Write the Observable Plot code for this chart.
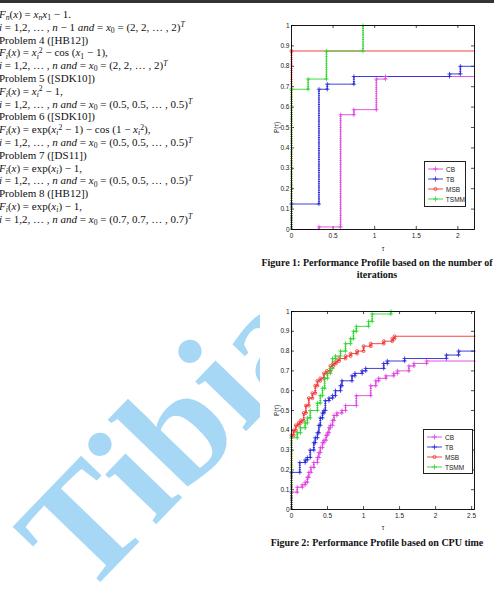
<!DOCTYPE html>
<html><head><meta charset="utf-8">
<script src="https://cdn.jsdelivr.net/npm/d3@7"></script>
<script src="https://cdn.jsdelivr.net/npm/@observablehq/plot@0.6"></script>
<style>
html,body{margin:0;padding:0;background:#fff;}
#page{position:relative;width:494px;height:595px;overflow:hidden;background:#fff;}
.topbar{position:absolute;left:0;top:0;width:494px;height:3px;background:#333;}
#wm{position:absolute;left:0;top:0;}
#text{position:absolute;left:-1px;top:8px;font-family:"Liberation Serif",serif;font-size:11px;line-height:12.8px;color:#111;white-space:nowrap;}
sub,sup{font-size:70%;line-height:0;position:relative;vertical-align:baseline}
sub{top:0.3em} sup{top:-0.45em}
.chart{position:absolute;}
.cap{position:absolute;left:260px;width:234px;text-align:center;font-family:"Liberation Serif",serif;font-weight:bold;font-size:10px;line-height:12px;color:#111}
.legend{position:absolute;background:#fff;border:1px solid #222;box-sizing:border-box;font-family:"Liberation Sans",Arial,sans-serif;font-size:6.5px;color:#222;padding-top:2px}
.legend .row{display:flex;align-items:center;height:10px}
.legend svg{display:block;margin-left:2px;margin-right:2px}
</style></head><body><div id="page">
<div class="topbar"></div>
<svg id="wm" width="494" height="595"><text transform="translate(84,599) rotate(-46)" font-family="Liberation Serif, serif" font-weight="bold" font-size="155" fill="#a6d8f6">Tibia</text></svg>
<div id="text">
<div><i>F</i><sub><i>n</i></sub>(<i>x</i>) = <i>x</i><sub><i>n</i></sub><i>x</i><sub>1</sub> − 1.</div>
<div><i>i</i> = 1,2, … , <i>n</i> − 1 <i>and</i> = <i>x</i><sub>0</sub> = (2, 2, … , 2)<sup><i>T</i></sup></div>
<div>Problem 4 ([HB12])</div>
<div><i>F</i><sub><i>i</i></sub>(<i>x</i>) = <i>x</i><sub><i>i</i></sub><sup>2</sup> − cos (<i>x</i><sub>1</sub> − 1),</div>
<div><i>i</i> = 1,2, … , <i>n and</i> = <i>x</i><sub>0</sub> = (2, 2, … , 2)<sup><i>T</i></sup></div>
<div>Problem 5 ([SDK10])</div>
<div><i>F</i><sub><i>i</i></sub>(<i>x</i>) = <i>x</i><sub><i>i</i></sub><sup>2</sup> − 1,</div>
<div><i>i</i> = 1,2, … , <i>n and</i> = <i>x</i><sub>0</sub> = (0.5, 0.5, … , 0.5)<sup><i>T</i></sup></div>
<div>Problem 6 ([SDK10])</div>
<div><i>F</i><sub><i>i</i></sub>(<i>x</i>) = exp(<i>x</i><sub><i>i</i></sub><sup>2</sup> − 1) − cos (1 − <i>x</i><sub><i>i</i></sub><sup>2</sup>),</div>
<div><i>i</i> = 1,2, … , <i>n and</i> = <i>x</i><sub>0</sub> = (0.5, 0.5, … , 0.5)<sup><i>T</i></sup></div>
<div>Problem 7 ([DS11])</div>
<div><i>F</i><sub><i>i</i></sub>(<i>x</i>) = exp(<i>x</i><sub><i>i</i></sub>) − 1,</div>
<div><i>i</i> = 1,2, … , <i>n and</i> = <i>x</i><sub>0</sub> = (0.5, 0.5, … , 0.5)<sup><i>T</i></sup></div>
<div>Problem 8 ([HB12])</div>
<div><i>F</i><sub><i>i</i></sub>(<i>x</i>) = exp(<i>x</i><sub><i>i</i></sub>) − 1,</div>
<div><i>i</i> = 1,2, … , <i>n and</i> = <i>x</i><sub>0</sub> = (0.7, 0.7, … , 0.7)<sup><i>T</i></sup></div>
</div>
<div id="c1" class="chart" style="left:260px;top:12px"></div>
<div id="c2" class="chart" style="left:260px;top:299px"></div>
<div class="cap" style="top:257px">Figure 1: Performance Profile based on the number of<br>iterations</div>
<div class="cap" style="top:537px">Figure 2: Performance Profile based on CPU time</div>
<div id="lg1" class="legend" style="left:424px;top:161px;width:42px;height:46px"></div>
<div id="lg2" class="legend" style="left:423px;top:429px;width:50px;height:45px"></div>
</div>
<script>
// ---- data ----
const series = ["CB", "TB", "MSB", "TSMM"];
const colors = ["#e044e0", "#2b2bd6", "#f03232", "#2fd62f"];
const symbols = ["plus", "plus", "circle", "plus"];
const yTicks = [0, 0.1, 0.2, 0.3, 0.4, 0.5, 0.6, 0.7, 0.8, 0.9, 1];
const xTicks1 = [0, 0.5, 1, 1.5, 2];
const xTicks2 = [0, 0.5, 1, 1.5, 2, 2.5];

// Figure 1: number of iterations
const cbIterTau = [0, 0.33, 0.59, 0.75, 1.02, 1.13, 2.2];
const cbIterRho = [0, 0.0125, 0.5625, 0.5875, 0.7375, 0.75, 0.75];
const tbIterTau = [0, 0, 0.33, 0.43, 0.75, 1.90, 2.03, 2.2];
const tbIterRho = [0, 0.125, 0.6875, 0.7125, 0.75, 0.7625, 0.8, 0.8];
const msbIterTau = [0, 0, 2.2];
const msbIterRho = [0, 0.875, 0.875];
const tsmmIterTau = [0, 0, 0.2, 0.42, 0.86, 2.2];
const tsmmIterRho = [0, 0.6875, 0.7375, 0.875, 1, 1];

// Figure 2: CPU time
const cbCpuTau = [0, 0, 0.08, 0.15, 0.19, 0.22, 0.24, 0.27, 0.31, 0.36, 0.38, 0.40, 0.43, 0.45, 0.48, 0.50, 0.52, 0.54, 0.57, 0.59, 0.63, 0.70, 0.75, 0.90, 1.10, 1.17, 1.21, 1.31, 1.42, 1.47, 1.63, 1.70, 1.875, 2.55];
const cbCpuRho = [0, 0.0875, 0.1125, 0.125, 0.1375, 0.1625, 0.1875, 0.2125, 0.2375, 0.2625, 0.2875, 0.3125, 0.3375, 0.35, 0.375, 0.3875, 0.4125, 0.425, 0.45, 0.475, 0.4875, 0.5, 0.525, 0.575, 0.625, 0.65, 0.6625, 0.675, 0.6875, 0.7, 0.725, 0.7375, 0.75, 0.75];
const tbCpuTau = [0, 0, 0.115, 0.19, 0.22, 0.26, 0.31, 0.33, 0.36, 0.38, 0.40, 0.43, 0.45, 0.47, 0.52, 0.57, 0.61, 0.68, 0.70, 0.84, 0.88, 0.98, 1.03, 1.28, 1.33, 1.57, 2.15, 2.32, 2.55];
const tbCpuRho = [0, 0.1875, 0.2375, 0.25, 0.2625, 0.3, 0.3375, 0.3625, 0.3875, 0.425, 0.4625, 0.4875, 0.5, 0.55, 0.5625, 0.575, 0.6, 0.625, 0.65, 0.675, 0.6875, 0.7, 0.7125, 0.7375, 0.75, 0.7625, 0.78, 0.8, 0.8];
const msbCpuTau = [0, 0, 0.03, 0.06, 0.10, 0.13, 0.17, 0.20, 0.24, 0.29, 0.33, 0.36, 0.40, 0.45, 0.49, 0.54, 0.58, 0.62, 0.66, 0.75, 0.82, 0.91, 1.00, 1.10, 1.28, 1.40, 1.43, 2.55];
const msbCpuRho = [0, 0.375, 0.4, 0.425, 0.4375, 0.45, 0.4875, 0.525, 0.5625, 0.5875, 0.625, 0.65, 0.6625, 0.6875, 0.7, 0.725, 0.7375, 0.75, 0.7625, 0.775, 0.7875, 0.8, 0.825, 0.8375, 0.85, 0.8625, 0.875, 0.875];
const tsmmCpuTau = [0, 0, 0.08, 0.125, 0.19, 0.22, 0.26, 0.36, 0.40, 0.43, 0.46, 0.50, 0.54, 0.57, 0.61, 0.68, 0.75, 0.82, 0.86, 0.90, 1.07, 1.12, 1.38, 2.55];
const tsmmCpuRho = [0, 0.3625, 0.3875, 0.4125, 0.4375, 0.4625, 0.5, 0.5375, 0.575, 0.6125, 0.6625, 0.6875, 0.7125, 0.7625, 0.775, 0.8, 0.8375, 0.8625, 0.9, 0.925, 0.95, 0.9875, 1, 1];

// ---- build tables ----
function build(list) {
  const rows = [], links = [], pts = [];
  for (const [name, tau, rho] of list) {
    tau.forEach((t, i) => {
      rows.push({series: name, tau: t, rho: rho[i]});
      if (i > 0 && rho[i] !== rho[i - 1]) {
        links.push({series: name, tau: t, r0: rho[i - 1], r1: rho[i]});
        pts.push({series: name, tau: t, rho: rho[i]});
        if (rho[i - 1] > 0) pts.push({series: name, tau: t, rho: rho[i - 1]});
      }
    });
  }
  return {rows, links, pts};
}
const fig1 = build([["CB", cbIterTau, cbIterRho], ["TB", tbIterTau, tbIterRho], ["MSB", msbIterTau, msbIterRho], ["TSMM", tsmmIterTau, tsmmIterRho]]);
const fig2 = build([["CB", cbCpuTau, cbCpuRho], ["TB", tbCpuTau, tbCpuRho], ["MSB", msbCpuTau, msbCpuRho], ["TSMM", tsmmCpuTau, tsmmCpuRho]]);

const fmt = d3.format("~g");
function chart({data, xDomain, xTicks, width, height, mt, mb, ml, mr, xLabelOffset}) {
  const pw = width - ml - mr, ph = height - mt - mb;
  return Plot.plot({
    width, height, marginTop: mt, marginBottom: mb, marginLeft: ml, marginRight: mr,
    style: {background: "white", fontFamily: "Liberation Sans, Arial, sans-serif", fontSize: "6.5px", color: "#222"},
    x: {domain: xDomain},
    y: {domain: [0, 1]},
    color: {domain: series, range: colors},
    symbol: {domain: series, range: symbols},
    marks: [
      Plot.tickX(xTicks, {x: d => d, insetTop: ph - 3, stroke: "#000", strokeWidth: 0.7}),
      Plot.tickX(xTicks, {x: d => d, insetBottom: ph - 3, stroke: "#000", strokeWidth: 0.7}),
      Plot.tickY(yTicks, {y: d => d, insetRight: pw - 3, stroke: "#000", strokeWidth: 0.7}),
      Plot.tickY(yTicks, {y: d => d, insetLeft: pw - 3, stroke: "#000", strokeWidth: 0.7}),
      Plot.line(data.rows, {x: "tau", y: "rho", z: "series", stroke: "series", curve: "step-after", strokeWidth: 0.9}),
      Plot.link(data.links, {x1: "tau", x2: "tau", y1: "r0", y2: "r1", stroke: "series", strokeWidth: 2, strokeDasharray: "1,1.2"}),
      Plot.dot(data.pts, {x: "tau", y: "rho", stroke: "series", symbol: "series", r: 1.5, strokeWidth: 0.8}),
      Plot.frame({stroke: "#000", strokeWidth: 0.9}),
      Plot.axisX({ticks: xTicks, tickSize: 0, tickPadding: 4, tickFormat: fmt, label: "τ", labelAnchor: "center", labelOffset: xLabelOffset, labelArrow: "none"}),
      Plot.axisY({ticks: yTicks, tickSize: 0, tickPadding: 2, tickFormat: fmt, label: "P(τ)", labelAnchor: "center", labelOffset: 17, labelArrow: "none"})
    ]
  });
}
document.getElementById("c1").append(chart({data: fig1, xDomain: [0, 2.2], xTicks: xTicks1, width: 234, height: 240, mt: 13, mb: 23, ml: 31, mr: 20, xLabelOffset: 21}));
document.getElementById("c2").append(chart({data: fig2, xDomain: [0, 2.54], xTicks: xTicks2, width: 234, height: 234, mt: 12, mb: 24, ml: 31, mr: 20, xLabelOffset: 20}));

function legend(id) {
  const el = document.getElementById(id);
  series.forEach((s, i) => {
    const row = document.createElement("div");
    row.className = "row";
    const svg = d3.create("svg").attr("width", 17).attr("height", 8);
    svg.append("line").attr("x1", 1).attr("x2", 16).attr("y1", 4).attr("y2", 4).attr("stroke", colors[i]).attr("stroke-width", 0.9);
    svg.append("path").attr("d", d3.symbol(symbols[i] === "plus" ? d3.symbolPlus : d3.symbolCircle, symbols[i] === "plus" ? 10 : 8)())
      .attr("transform", "translate(8.5,4)").attr("fill", "none").attr("stroke", colors[i]).attr("stroke-width", 0.8);
    row.append(svg.node());
    const t = document.createElement("span");
    t.textContent = s;
    row.append(t);
    el.append(row);
  });
}
legend("lg1");
legend("lg2");
</script>
</body></html>
